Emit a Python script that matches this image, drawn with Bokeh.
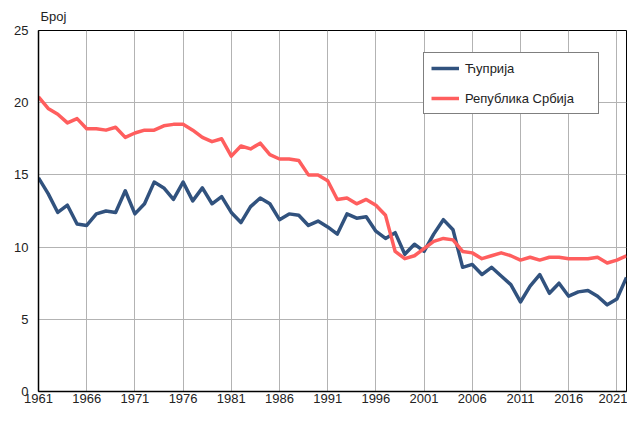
from bokeh.plotting import figure
from bokeh.models import Range1d, FixedTicker, Legend, LegendItem, ColumnDataSource
from bokeh.embed import file_html
from bokeh.resources import INLINE

years = list(range(1961, 2023))
cuprija = [14.8, 13.7, 12.4, 12.9, 11.6, 11.5, 12.3, 12.5, 12.4, 13.9,
           12.3, 13.0, 14.5, 14.1, 13.3, 14.5, 13.2, 14.1, 13.0, 13.5,
           12.4, 11.7, 12.8, 13.4, 13.0, 11.9, 12.3, 12.2, 11.5, 11.8,
           11.4, 10.9, 12.3, 12.0, 12.1, 11.1, 10.6, 11.0, 9.5, 10.2,
           9.7, 10.9, 11.9, 11.2, 8.6, 8.8, 8.1, 8.6, 8.0, 7.4,
           6.2, 7.3, 8.1, 6.8, 7.5, 6.6, 6.9, 7.0, 6.6, 6.0,
           6.4, 7.9]
srbija = [20.4, 19.6, 19.2, 18.6, 18.9, 18.2, 18.2, 18.1, 18.3, 17.6,
          17.9, 18.1, 18.1, 18.4, 18.5, 18.5, 18.1, 17.6, 17.3, 17.5,
          16.3, 17.0, 16.8, 17.2, 16.4, 16.1, 16.1, 16.0, 15.0, 15.0,
          14.6, 13.3, 13.4, 13.0, 13.3, 12.9, 12.2, 9.7, 9.2, 9.4,
          9.9, 10.4, 10.6, 10.5, 9.7, 9.6, 9.2, 9.4, 9.6, 9.4,
          9.1, 9.3, 9.1, 9.3, 9.3, 9.2, 9.2, 9.2, 9.3, 8.9,
          9.1, 9.4]
x_ticks = [1961, 1966, 1971, 1976, 1981, 1986, 1991, 1996, 2001, 2006, 2011, 2016, 2021]
y_ticks = [0, 5, 10, 15, 20, 25]
series_names = ["Ћуприја", "Република Србија"]
y_title = "Број"

FONT = "Liberation Sans"

src = ColumnDataSource(dict(year=years, cuprija=cuprija, srbija=srbija))

p = figure(width=627, height=405, output_backend="svg", toolbar_location=None,
           x_range=Range1d(1961, 2022), y_range=Range1d(0, 25),
           min_border_left=38, min_border_right=1, min_border_top=27, min_border_bottom=10)

p.title.text = y_title
p.title.align = "left"
p.title.offset = 2
p.title.text_font = FONT
p.title.text_font_size = "13px"
p.title.text_font_style = "normal"
p.title.text_color = "#222222"
p.title.standoff = 13

p.outline_line_color = "black"
p.outline_line_width = 1

for ax in (p.xaxis[0], p.yaxis[0]):
    ax.major_tick_line_color = None
    ax.minor_tick_line_color = None
    ax.major_tick_out = 0
    ax.major_tick_in = 0
    ax.axis_line_color = "black"
    ax.axis_line_width = 1.5
    ax.major_label_text_font = FONT
    ax.major_label_text_font_size = "13px"
    ax.major_label_text_color = "#222222"

p.xaxis[0].ticker = FixedTicker(ticks=x_ticks)
p.yaxis[0].ticker = FixedTicker(ticks=y_ticks)
p.xaxis[0].major_label_standoff = 2
p.yaxis[0].major_label_standoff = 10

p.xgrid[0].ticker = FixedTicker(ticks=x_ticks)
p.ygrid[0].ticker = FixedTicker(ticks=y_ticks)
p.grid.grid_line_color = "#b3b3b3"
p.grid.grid_line_width = 1

r1 = p.line("year", "cuprija", source=src, line_color="#31527E", line_width=3.5, line_join="round")
r2 = p.line("year", "srbija", source=src, line_color="#FF5E5E", line_width=3.5, line_join="round")

legend = Legend(items=[LegendItem(label=series_names[0], renderers=[r1]),
                       LegendItem(label=series_names[1], renderers=[r2])],
                location=(385, 277), orientation="vertical", padding=7, spacing=14,
                glyph_width=28, glyph_height=16, label_height=16, label_standoff=6,
                label_width=126, border_line_color="black", border_line_width=1,
                label_text_font=FONT, label_text_font_size="13px", label_text_color="#222222",
                margin=0, background_fill_color="white", background_fill_alpha=1)
p.add_layout(legend)

open("out.html", "w").write(file_html(p, INLINE))
